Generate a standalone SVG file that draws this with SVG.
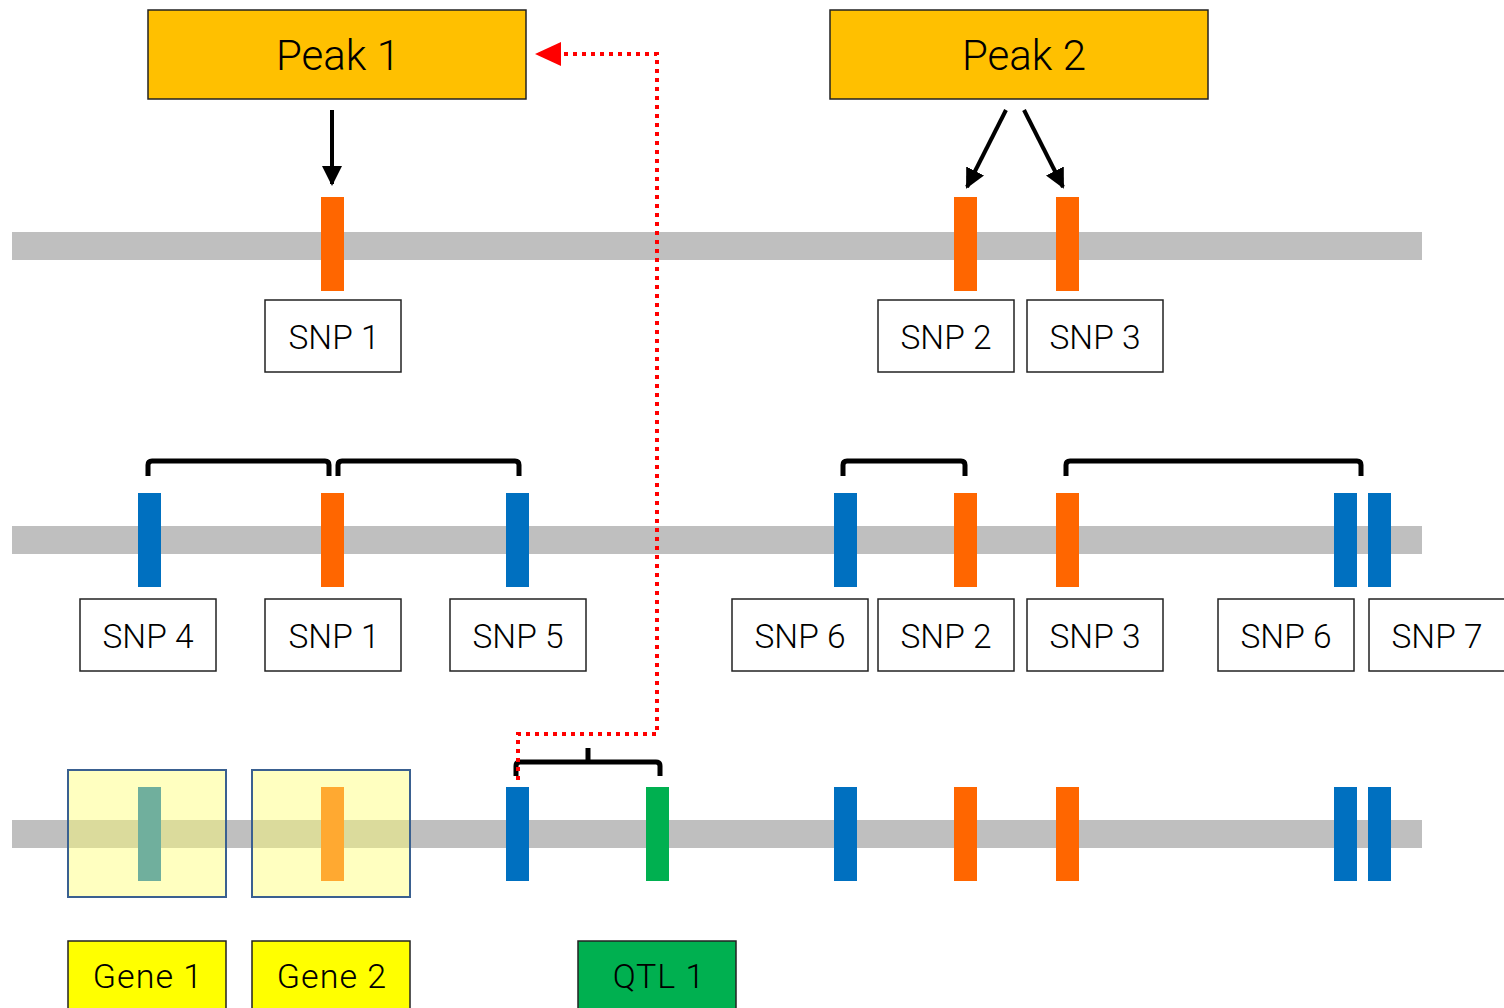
<svg xmlns="http://www.w3.org/2000/svg" width="1504" height="1008" viewBox="0 0 1504 1008">
<defs>
<style>
.peak{fill:#FFC000;stroke:#222;stroke-width:1.5}
.lbl{fill:#fff;stroke:#222;stroke-width:1.5}
.t{font-family:Roboto,"Liberation Sans",sans-serif;font-weight:300;fill:#000;text-anchor:middle;dominant-baseline:central}
.tp{font-size:42px}
.ts{font-size:33.5px}
.tb{font-size:34px;letter-spacing:1px}
.chr{fill:#BFBFBF}
.or{fill:#FF6600}
.bl{fill:#0070C0}
.gr{fill:#00B050}
.br{fill:none;stroke:#000;stroke-width:5;stroke-linejoin:round}
.gene{fill:#FFFF70;fill-opacity:0.44;stroke:#3A6090;stroke-width:2}
.arr{stroke:#000;stroke-width:4;fill:none}
</style>
<marker id="ah" viewBox="0 0 10 10" refX="9" refY="5" markerWidth="5" markerHeight="5" orient="auto" markerUnits="strokeWidth">
<path d="M0,0 L10,5 L0,10 z" fill="#000"/>
</marker>
</defs>
<rect width="1504" height="1008" fill="#fff"/>

<g id="chromosomes">
<rect class="chr" x="12" y="232" width="1410" height="28"/>
<rect class="chr" x="12" y="526" width="1410" height="28"/>
<rect class="chr" x="12" y="820" width="1410" height="28"/>
</g>

<g id="row1-markers">
<rect class="or" x="321" y="197" width="23" height="94"/>
<rect class="or" x="954" y="197" width="23" height="94"/>
<rect class="or" x="1056" y="197" width="23" height="94"/>
</g>

<g id="row2-markers">
<rect class="bl" x="138" y="493" width="23" height="94"/>
<rect class="or" x="321" y="493" width="23" height="94"/>
<rect class="bl" x="506" y="493" width="23" height="94"/>
<rect class="bl" x="834" y="493" width="23" height="94"/>
<rect class="or" x="954" y="493" width="23" height="94"/>
<rect class="or" x="1056" y="493" width="23" height="94"/>
<rect class="bl" x="1334" y="493" width="23" height="94"/>
<rect class="bl" x="1368" y="493" width="23" height="94"/>
</g>

<g id="row3-markers">
<rect fill="#0070C0" x="138" y="787" width="23" height="94"/>
<rect fill="#FF6600" x="321" y="787" width="23" height="94"/>
<rect class="bl" x="506" y="787" width="23" height="94"/>
<rect class="gr" x="646" y="787" width="23" height="94"/>
<rect class="bl" x="834" y="787" width="23" height="94"/>
<rect class="or" x="954" y="787" width="23" height="94"/>
<rect class="or" x="1056" y="787" width="23" height="94"/>
<rect class="bl" x="1334" y="787" width="23" height="94"/>
<rect class="bl" x="1368" y="787" width="23" height="94"/>
</g>

<g id="gene1-region"><rect class="gene" x="68" y="770" width="158" height="127"/></g>
<g id="gene2-region"><rect class="gene" x="252" y="770" width="158" height="127"/></g>

<g id="peak1"><rect class="peak" x="148" y="10" width="378" height="89"/><text class="t tp" x="338" y="55">Peak 1</text></g>
<g id="peak2"><rect class="peak" x="830" y="10" width="378" height="89"/><text class="t tp" x="1024" y="55">Peak 2</text></g>

<g id="r1-snp1"><rect class="lbl" x="265" y="300" width="136" height="72"/><text class="t ts" x="334" y="337">SNP 1</text></g>
<g id="r1-snp2"><rect class="lbl" x="878" y="300" width="136" height="72"/><text class="t ts" x="946" y="337">SNP 2</text></g>
<g id="r1-snp3"><rect class="lbl" x="1027" y="300" width="136" height="72"/><text class="t ts" x="1095" y="337">SNP 3</text></g>

<g id="r2-snp4"><rect class="lbl" x="80" y="599" width="136" height="72"/><text class="t ts" x="148" y="636">SNP 4</text></g>
<g id="r2-snp1"><rect class="lbl" x="265" y="599" width="136" height="72"/><text class="t ts" x="334" y="636">SNP 1</text></g>
<g id="r2-snp5"><rect class="lbl" x="450" y="599" width="136" height="72"/><text class="t ts" x="518" y="636">SNP 5</text></g>
<g id="r2-snp6a"><rect class="lbl" x="732" y="599" width="136" height="72"/><text class="t ts" x="800" y="636">SNP 6</text></g>
<g id="r2-snp2"><rect class="lbl" x="878" y="599" width="136" height="72"/><text class="t ts" x="946" y="636">SNP 2</text></g>
<g id="r2-snp3"><rect class="lbl" x="1027" y="599" width="136" height="72"/><text class="t ts" x="1095" y="636">SNP 3</text></g>
<g id="r2-snp6b"><rect class="lbl" x="1218" y="599" width="136" height="72"/><text class="t ts" x="1286" y="636">SNP 6</text></g>
<g id="r2-snp7"><rect class="lbl" x="1369" y="599" width="140" height="72"/><text class="t ts" x="1437" y="636">SNP 7</text></g>

<g id="gene1"><rect x="68" y="941" width="158" height="80" fill="#FFFF00" stroke="#222" stroke-width="1.5"/><text class="t tb" x="148" y="976">Gene 1</text></g>
<g id="gene2"><rect x="252" y="941" width="158" height="80" fill="#FFFF00" stroke="#222" stroke-width="1.5"/><text class="t tb" x="332" y="976">Gene 2</text></g>
<g id="qtl1"><rect x="578" y="941" width="158" height="80" fill="#00B050" stroke="#222" stroke-width="1.5"/><text class="t tb" x="659" y="976">QTL 1</text></g>

<g id="connectors">
<line class="arr" x1="332" y1="110" x2="332" y2="184" marker-end="url(#ah)"/>
<line class="arr" x1="1006" y1="110" x2="967" y2="187" marker-end="url(#ah)"/>
<line class="arr" x1="1024" y1="110" x2="1063" y2="187" marker-end="url(#ah)"/>
<path class="br" d="M148,476 V465 Q148,461 152,461 H325 Q329,461 329,465 V476"/>
<path class="br" d="M338,476 V465 Q338,461 342,461 H515 Q519,461 519,465 V476"/>
<path class="br" d="M843,476 V465 Q843,461 847,461 H961 Q965,461 965,465 V476"/>
<path class="br" d="M1066,476 V465 Q1066,461 1070,461 H1357 Q1361,461 1361,465 V476"/>
<path class="br" d="M516,776 V766 Q516,762 520,762 H656 Q660,762 660,766 V776 M588,762 V748"/>
<path d="M518,780 V734 H657 V54 H560" fill="none" stroke="#FF0000" stroke-width="4" stroke-dasharray="4 5"/>
<path d="M535,54 L561,42 L561,66 z" fill="#FF0000"/>
</g>
</svg>
